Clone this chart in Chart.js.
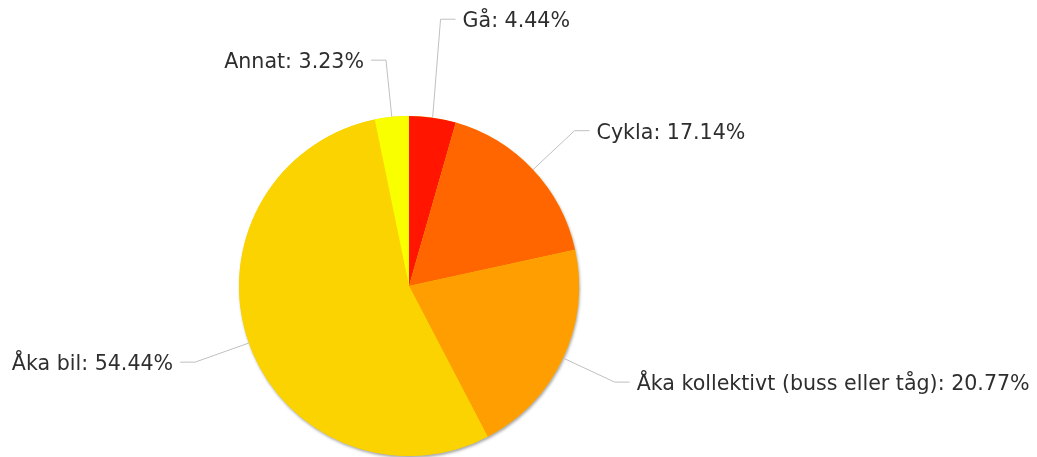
<!DOCTYPE html>
<html>
<head>
<meta charset="utf-8">
<script src="https://cdn.jsdelivr.net/npm/chart.js@4/dist/chart.umd.min.js"></script>
<style>
	body { margin: 0; background: #ffffff; }
	#grafico_pizza { display: block; }
</style>
</head>
<body>
<canvas id="grafico_pizza" width="1037" height="457"></canvas>
<script>
var kategorier = ["Gå", "Cykla", "Åka kollektivt (buss eller tåg)", "Åka bil", "Annat"];
var andelar = [4.44, 17.14, 20.77, 54.44, 3.23];

var farger = ["#ff1500", "#ff6600", "#ff9e00", "#fbd300", "#faff00"];

// skugga under pajen (ritas före tårtbitarna)
var skugga = {
	id: "skugga",
	beforeDatasetsDraw: function (chart) {
		var arc = chart.getDatasetMeta(0).data[0];
		var ctx = chart.ctx;
		ctx.save();
		ctx.shadowColor = "rgba(0, 0, 0, 0.35)";
		ctx.shadowBlur = 3;
		ctx.shadowOffsetX = 1;
		ctx.shadowOffsetY = 2;
		ctx.fillStyle = farger[3];
		ctx.beginPath();
		ctx.arc(arc.x, arc.y, arc.outerRadius, 0, Math.PI * 2);
		ctx.fill();
		ctx.restore();
	}
};

// etiketter med linjer utanför pajen
var etiketter = {
	id: "etiketter",
	afterDatasetsDraw: function (chart, args, opts) {
		var ctx = chart.ctx;
		var arcs = chart.getDatasetMeta(0).data;
		ctx.save();
		ctx.font = opts.font;
		ctx.textBaseline = "middle";
		arcs.forEach(function (arc, i) {
			var mitt = (arc.startAngle + arc.endAngle) / 2;
			var r = arc.outerRadius;
			var x0 = arc.x + Math.cos(mitt) * r;
			var y0 = arc.y + Math.sin(mitt) * r;
			var x1 = arc.x + Math.cos(mitt) * (r + opts.avstand);
			var y1 = arc.y + Math.sin(mitt) * (r + opts.avstand) - (opts.lyft[i] || 0);
			var hoger = Math.cos(mitt) >= 0;
			var x2 = hoger ? x1 + opts.kort : x1 - opts.kort;

			ctx.strokeStyle = opts.linjefarg;
			ctx.lineWidth = 1;
			ctx.beginPath();
			ctx.moveTo(x0, y0);
			ctx.lineTo(x1, y1);
			ctx.lineTo(x2, y1);
			ctx.stroke();

			var text = kategorier[i] + ": " + andelar[i].toFixed(2) + "%";
			ctx.fillStyle = opts.textfarg;
			ctx.textAlign = hoger ? "left" : "right";
			ctx.fillText(text, hoger ? x2 + opts.mellanrum : x2 - opts.mellanrum, y1 + 2.5);
		});
		ctx.restore();
	}
};

new Chart(document.getElementById("grafico_pizza"), {
	type: "pie",
	data: {
		labels: kategorier,
		datasets: [
			{
				data: andelar,
				backgroundColor: farger,
				borderWidth: 0,
			},
		],
	},
	options: {
		responsive: false,
		animation: false,
		devicePixelRatio: 1,
		layout: {
			padding: { left: 239, right: 458, top: 116, bottom: 1 },
		},
		plugins: {
			legend: { display: false },
			tooltip: { enabled: false },
			etiketter: {
				font: "20.6px 'DejaVu Sans'",
				textfarg: "#2e2e2e",
				linjefarg: "#c0c0c0",
				avstand: 57,
				kort: 15,
				mellanrum: 7,
				lyft: [42, 0, 0, 0, 0],
			},
		},
	},
	plugins: [skugga, etiketter],
});
</script>
</body>
</html>
